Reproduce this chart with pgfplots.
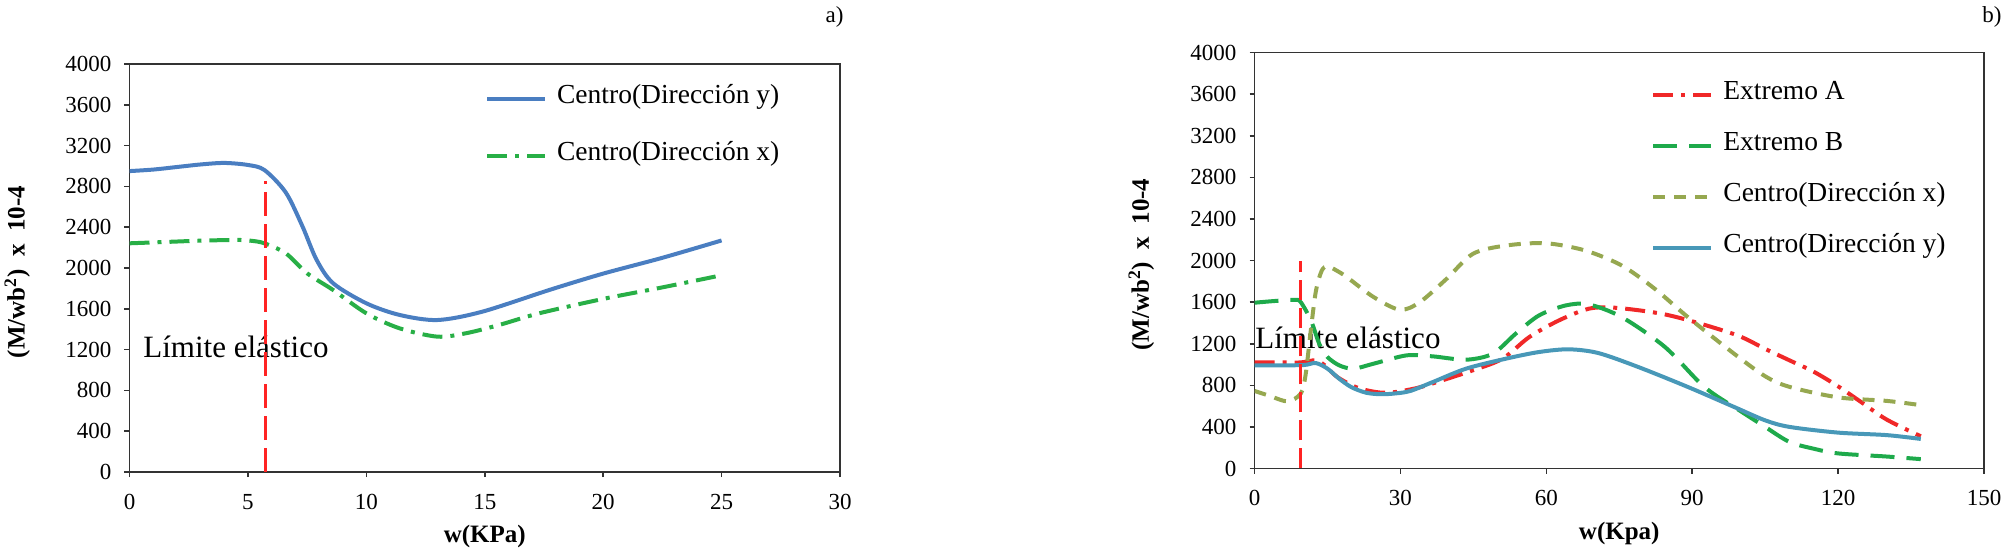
\documentclass[border=0pt]{standalone}
\usepackage{fontspec}
\setmainfont{Liberation Serif}
\usepackage{pgfplots}
\pgfplotsset{compat=1.18}
\definecolor{lblue}{RGB}{74,126,193}
\definecolor{lgreen}{RGB}{40,175,70}
\definecolor{vred}{RGB}{255,35,35}
\definecolor{rred}{RGB}{240,40,40}
\definecolor{rgreen}{RGB}{30,170,75}
\definecolor{rolive}{RGB}{150,168,80}
\definecolor{rteal}{RGB}{72,152,184}
\newcommand{\labfont}{\fontsize{12.5}{14}\selectfont\bfseries}
\pgfplotsset{
  common/.style={
    scale only axis, anchor=south west,
    ymin=0, ymax=4000, ytick={0,400,...,4000},
    tick pos=left, tick align=outside, major tick length=2.5pt,
    axis line style={line width=0.8pt, color=black!80},
    every tick/.style={black!80, line width=0.8pt},
    /pgf/number format/1000 sep={},
    /pgf/number format/assume math mode=true,
    ticklabel style={font=\fontsize{11.5}{13}\selectfont},
    yticklabel style={xshift=-3pt},
    xticklabel style={yshift=-5pt},
    legend image code/.code={\draw[#1] (0pt,0pt) -- (29pt,0pt);},
    legend cell align=left,
    legend style={draw=none, fill=none, inner sep=0pt,
      font=\fontsize{13.75}{16}\selectfont,
      nodes={inner sep=0pt, text depth=0.25em, text height=0.75em},
      /tikz/every odd column/.append style={column sep=5pt}},
  }
}
\begin{document}
\begin{tikzpicture}
\useasboundingbox (0,0) rectangle (1005.5pt,275.5pt);
% ---------------- a) ----------------
\begin{axis}[common,
  at={(64.75pt,39.5pt)}, width=355.25pt, height=204pt,
  xmin=0, xmax=30, xtick={0,5,...,30},
  xlabel={w(KPa)},
  ylabel={(M/wb\textsuperscript{2})\ \ x\ \ 10-4},
  every axis y label/.style={at={(axis description cs:-0.158,0.49)}, rotate=90, anchor=center, font=\labfont},
  every axis x label/.style={at={(axis description cs:0.5,-0.157)}, anchor=center, font=\labfont},
  legend style={at={(rel axis cs:0.5,0.94)}, anchor=north west, row sep=18.4pt},
]
\node[anchor=base west, inner sep=0pt, font=\fontsize{15.5}{18}\selectfont] at (axis cs:0.57,1127) {Límite elástico};
\addplot[lblue, line width=2pt, smooth, tension=0.5] coordinates {
(0,2950) (1,2965) (2,2990) (3,3015) (4,3030) (5,3010) (5.7,2960) (6.6,2740) (7.3,2410) (7.9,2080) (8.6,1850) (10,1654) (11.4,1540) (13,1490) (14.9,1572) (17.8,1790) (20,1945) (22.5,2100) (25,2270)};
\addlegendentry{Centro(Dirección y)}
\addplot[lgreen, line width=2pt, smooth, tension=0.5, dash pattern=on 10pt off 4pt on 2pt off 4pt] coordinates {
(0,2242) (1.5,2255) (3,2268) (4.5,2275) (5.1,2268) (5.7,2242) (6.6,2144) (7.5,1948) (8.6,1784) (10,1556) (11.4,1409) (13,1327) (14.2,1360) (15.6,1441) (17.3,1556) (20,1697) (22.5,1810) (25,1929)};
\addlegendentry{Centro(Dirección x)}
\addplot[vred, line width=1.5pt, dash pattern=on 12pt off 4pt, forget plot] coordinates {(5.75,0) (5.75,2850)};
\end{axis}
\node[anchor=east, inner sep=0pt, font=\fontsize{11.5}{13}\selectfont] at (422pt,267pt) {a)};
% ---------------- b) ----------------
\begin{axis}[common,
  at={(627.25pt,41.25pt)}, width=364.75pt, height=208pt,
  xmin=0, xmax=150, xtick={0,30,...,150},
  xlabel={w(Kpa)},
  ylabel={(M/wb\textsuperscript{2})\ \ x\ \ 10-4},
  every axis y label/.style={at={(axis description cs:-0.155,0.49)}, rotate=90, anchor=center, font=\labfont},
  every axis x label/.style={at={(axis description cs:0.5,-0.156)}, anchor=center, font=\labfont},
  legend style={at={(rel axis cs:0.5435,0.923)}, anchor=north west, row sep=15.5pt},
]
\node[anchor=base west, inner sep=0pt, font=\fontsize{15.5}{18}\selectfont] at (axis cs:0.1,1158) {Límite elástico};
\addplot[rred, line width=2pt, smooth, tension=0.5, dash pattern=on 10pt off 4pt on 2pt off 4pt] coordinates {
(0,1020) (5,1020) (9.5,1020) (12.6,1040) (14.5,990) (17,880) (21,780) (25,735) (28,730) (32,760) (35.4,800) (44.9,944) (51,1056) (56.5,1264) (62.6,1424) (68.7,1536) (74.1,1546) (83,1494) (89.8,1418) (99.3,1280) (105,1150) (110,1040) (115,930) (120,790) (125,630) (130,470) (137,310)};
\addlegendentry{Extremo A}
\addplot[rgreen, line width=2pt, smooth, tension=0.5, dash pattern=on 12pt off 6pt] coordinates {
(0,1594) (4,1610) (8.2,1622) (9.5,1600) (11.6,1424) (13.3,1200) (15,1072) (17.5,990) (20.4,960) (24.5,1008) (31.3,1088) (36.7,1078) (43.5,1046) (49,1104) (53.7,1296) (58.5,1472) (64,1568) (68.7,1578) (75.5,1456) (84.4,1168) (92.5,784) (100,550) (105,400) (110,255) (115,190) (120,145) (130,115) (137,90)};
\addlegendentry{Extremo B}
\addplot[rolive, line width=2pt, smooth, tension=0.5, dash pattern=on 6pt off 4.5pt] coordinates {
(0,746) (3,700) (6.8,646) (9.5,720) (10.5,900) (11.5,1300) (12.6,1700) (13.8,1900) (15,1945) (17,1900) (19,1840) (24.5,1648) (29.9,1526) (34,1600) (39.5,1824) (44.9,2064) (51.7,2144) (59.9,2166) (68,2096) (75.5,1952) (82.3,1728) (89.1,1456) (98.6,1104) (105,887) (110,785) (120,684) (130,650) (137,609)};
\addlegendentry{Centro(Dirección x)}
\addplot[rteal, line width=2pt, smooth, tension=0.5] coordinates {
(0,992) (5,992) (10.2,995) (12.6,1014) (15,960) (17.5,860) (20,780) (23,728) (26,714) (29,722) (32,745) (36.7,832) (43.5,960) (51.7,1056) (58.5,1120) (64.6,1146) (70.7,1110) (78.9,976) (89.1,784) (98.6,592) (105,463) (110,400) (120,345) (130,321) (137,284)};
\addlegendentry{Centro(Dirección y)}
\addplot[vred, line width=1.5pt, dash pattern=on 10pt off 4pt, forget plot] coordinates {(9.4,0) (9.4,2000)};
\end{axis}
\node[anchor=west, inner sep=0pt, font=\fontsize{11.5}{13}\selectfont] at (991pt,267pt) {b)};
\end{tikzpicture}
\end{document}
